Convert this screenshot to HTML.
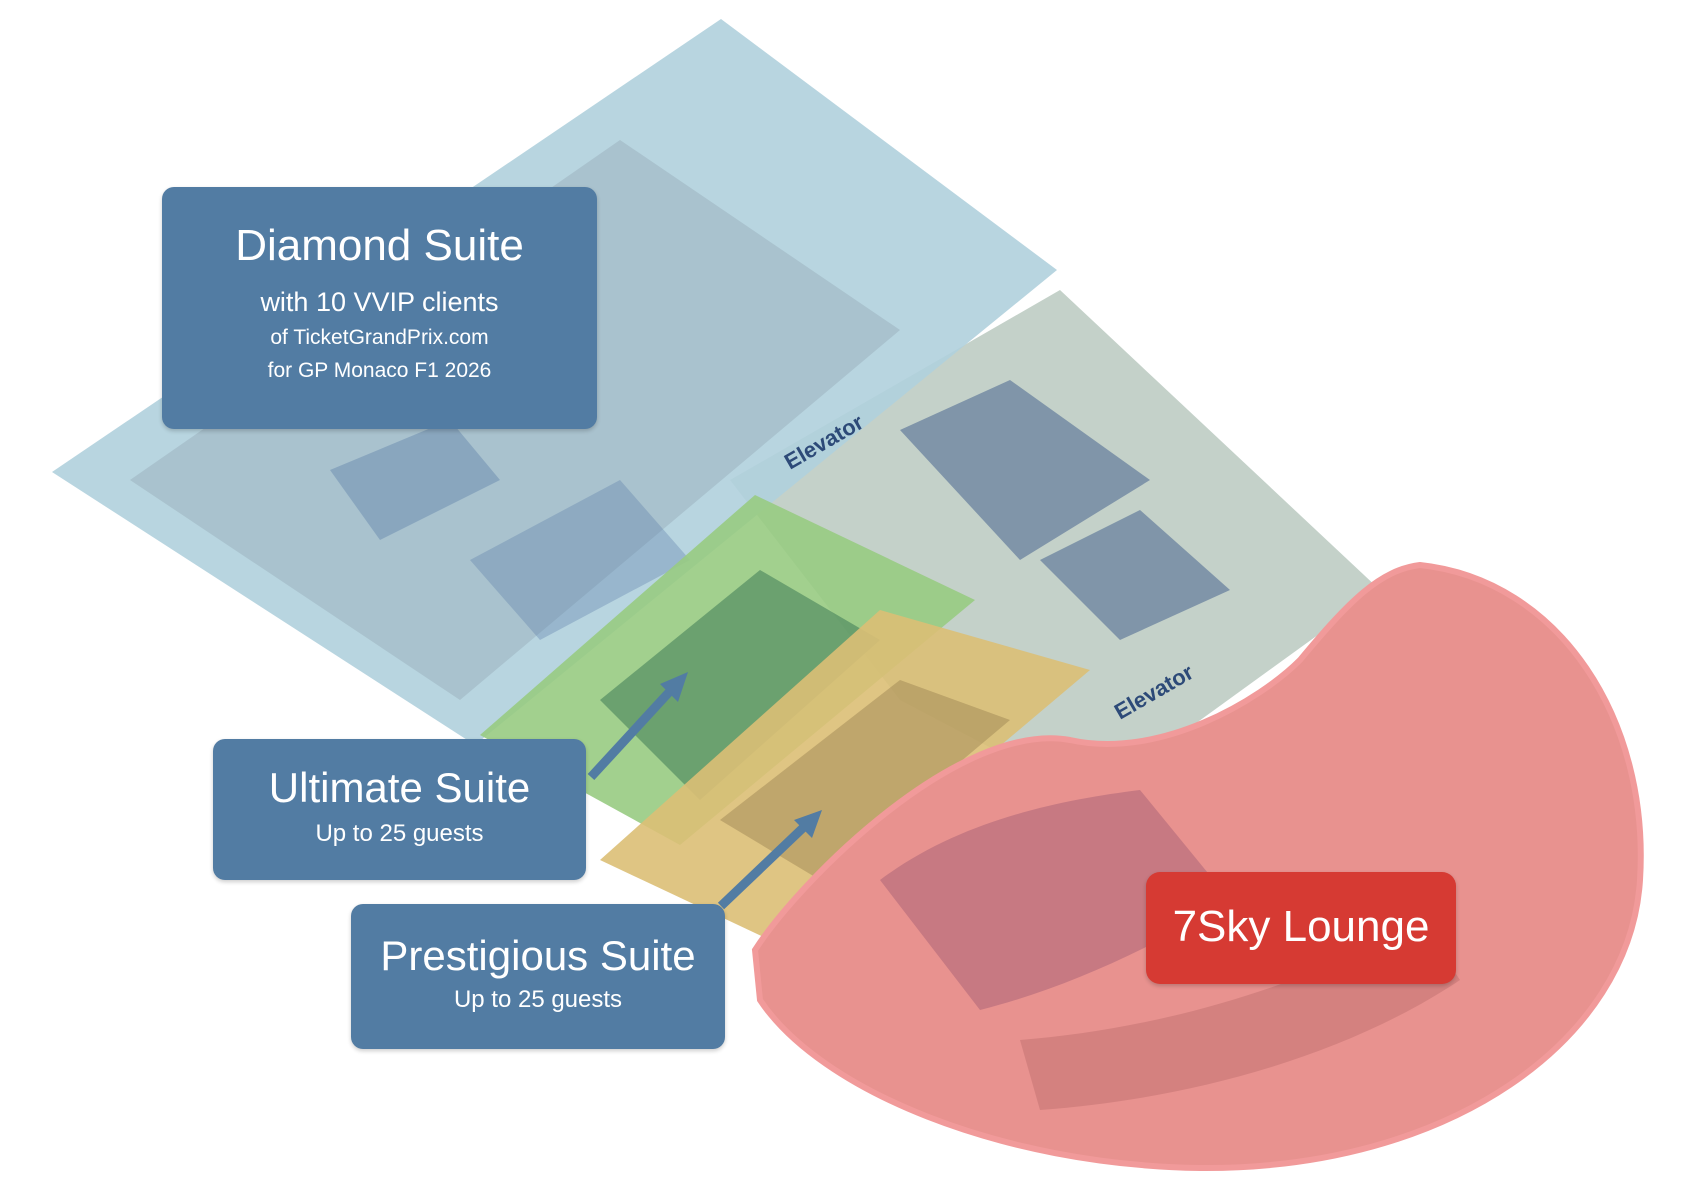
<!DOCTYPE html>
<html><head><meta charset="utf-8"><style>
body{margin:0;width:1683px;height:1190px;background:#fff;overflow:hidden;position:relative;font-family:"Liberation Sans",sans-serif}
svg{position:absolute;left:0;top:0}
.box{position:absolute;background:#527ca3;border-radius:12px;color:#fff;text-align:center;box-shadow:0 2px 4px rgba(0,0,0,.2)}
</style></head><body>
<svg width="1683" height="1190" viewBox="0 0 1683 1190">
<polygon points="730,480 1060,290 1380,590 1090,800 900,700" fill="#c4d1c9"/>
<polygon points="900,430 1010,380 1150,480 1020,560" fill="#3c5a8a" opacity=".5"/>
<polygon points="1040,560 1140,510 1230,590 1120,640" fill="#3c5a8a" opacity=".5"/>
<polygon points="52,472 721,19 1057,270 475,745" fill="#b0d0dd" opacity=".9"/>
<polygon points="130,480 620,140 900,330 460,700" fill="#9fb6c2" opacity=".6"/>
<polygon points="330,470 450,420 500,480 380,540" fill="#5b7ea8" opacity=".4"/>
<polygon points="470,560 620,480 690,560 540,640" fill="#5b7ea8" opacity=".35"/>
<polygon points="480,735 755,495 975,600 680,845" fill="#98cb82" opacity=".9"/>
<polygon points="600,700 760,570 880,640 700,800" fill="#3e7a55" opacity=".55"/>
<polygon points="600,860 880,610 1090,670 770,940" fill="#dcbf75" opacity=".9"/>
<polygon points="720,820 900,680 1010,720 820,880" fill="#9a8050" opacity=".45"/>
<path d="M755,950 C800,880 960,720 1070,740 C1160,760 1260,700 1300,660 C1350,600 1380,570 1420,565 C1560,580 1650,720 1640,880 C1630,1040 1450,1170 1200,1168 C1000,1165 820,1090 760,1000 Z" fill="#e8928f" stroke="#f19a9a" stroke-width="6"/>
<path d="M880,880 C960,820 1060,800 1140,790 L1230,900 C1150,950 1060,990 980,1010 Z" fill="#8a4a6a" opacity=".35"/>
<path d="M1020,1040 C1150,1030 1300,990 1420,920 L1460,980 C1340,1060 1180,1100 1040,1110 Z" fill="#b06060" opacity=".35"/>
<text x="790" y="470" font-size="22" fill="#2d4a78" transform="rotate(-30 790 470)" font-weight="bold">Elevator</text>
<text x="1120" y="720" font-size="22" fill="#2d4a78" transform="rotate(-30 1120 720)" font-weight="bold">Elevator</text>
<g stroke="#527ca3" stroke-width="9" fill="#527ca3">
<line x1="591" y1="777" x2="672" y2="689"/>
<line x1="721" y1="906" x2="806" y2="825"/>
</g>
<polygon points="688,672 660,684 678,702" fill="#527ca3"/>
<polygon points="822,810 794,820 812,838" fill="#527ca3"/>
</svg>
<div class="box" style="left:162px;top:187px;width:435px;height:242px">
<div style="font-size:44px;margin-top:34px">Diamond Suite</div>
<div style="font-size:27px;margin-top:16px">with 10 VVIP clients</div>
<div style="font-size:21px;margin-top:8px">of TicketGrandPrix.com</div>
<div style="font-size:21px;margin-top:9px">for GP Monaco F1 2026</div>
</div>
<div class="box" style="left:213px;top:739px;width:373px;height:141px">
<div style="font-size:42px;margin-top:25px">Ultimate Suite</div>
<div style="font-size:24px;margin-top:8px">Up to 25 guests</div>
</div>
<div class="box" style="left:351px;top:904px;width:374px;height:145px">
<div style="font-size:42px;margin-top:28px">Prestigious Suite</div>
<div style="font-size:24px;margin-top:6px">Up to 25 guests</div>
</div>
<div class="box" style="left:1146px;top:872px;width:310px;height:112px;background:#d63a33;border-radius:14px">
<div style="font-size:44px;margin-top:30px">7Sky Lounge</div>
</div>
</body></html>
